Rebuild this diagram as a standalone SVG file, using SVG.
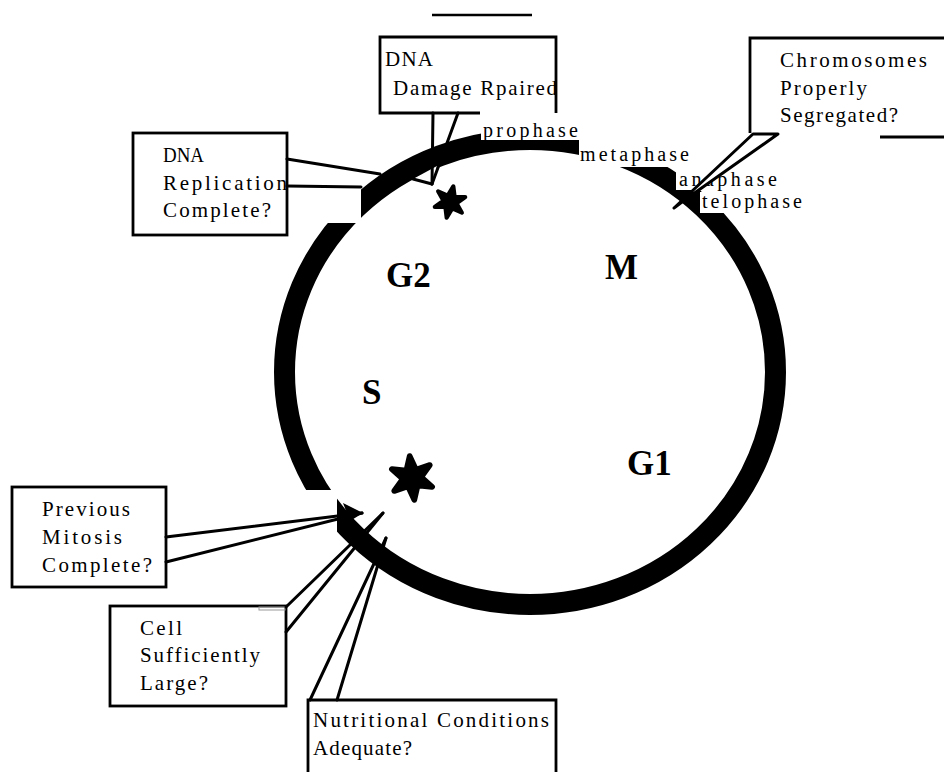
<svg xmlns="http://www.w3.org/2000/svg" width="944" height="772" viewBox="0 0 944 772">
<style>
.box{fill:none;stroke:#000;stroke-width:2.8}
.t{font-family:"Liberation Serif","Times New Roman",serif;font-size:21px;fill:#000}
.lb{font-family:"Liberation Serif","Times New Roman",serif;font-size:20px;fill:#000}
.big{font-family:"Liberation Serif","Times New Roman",serif;font-size:35px;font-weight:bold;fill:#000}
.con{fill:none;stroke:#000;stroke-width:3;stroke-linecap:round}
.wb{fill:#fff;stroke:none}
.star{fill:#000;stroke:#000;stroke-width:2.6;stroke-linejoin:round}
</style>
<defs>
<path id="star" d="M0,-10 L2.2,-3.6 L8.66,-5 L4.2,0 L8.66,5 L2.2,3.6 L0,10 L-2.2,3.6 L-8.66,5 L-4.2,0 L-8.66,-5 L-2.2,-3.6 Z"/>
</defs>
<rect width="944" height="772" fill="#fff"/>
<line x1="432" y1="15" x2="532" y2="15" stroke="#000" stroke-width="2.5"/>
<g id="cycle">
<ellipse cx="530" cy="372" rx="245.5" ry="232.5" fill="none" stroke="#000" stroke-width="21"/>
<rect class="wb" x="288" y="150" width="73" height="73"/>
<rect class="wb" x="288" y="490" width="49" height="46"/>
<rect class="wb" x="481" y="118" width="99" height="22"/>
<rect class="wb" x="579" y="126" width="99" height="41"/>
<rect class="wb" x="676" y="170" width="104" height="20"/>
<rect class="wb" x="700" y="192" width="106" height="21"/>
<polygon points="343,503 363,513 350,521" fill="#000"/>
<text class="lb" x="483" y="137" textLength="95" lengthAdjust="spacing">prophase</text>
<text class="lb" x="580" y="161" textLength="109" lengthAdjust="spacing">metaphase</text>
<text class="lb" x="679" y="186" textLength="98" lengthAdjust="spacing">anaphase</text>
<text class="lb" x="702" y="208" textLength="100" lengthAdjust="spacing">telophase</text>
<use href="#star" class="star" transform="translate(450,202) scale(1.6) rotate(12)"/>
<use href="#star" class="star" transform="translate(412,478) scale(2.2) rotate(-6)"/>
<text class="big" x="386" y="287">G2</text>
<text class="big" x="605" y="279">M</text>
<text class="big" x="362" y="404">S</text>
<text class="big" x="627" y="475">G1</text>
</g>
<g id="dna-replication">
<rect class="box" x="133" y="133" width="154" height="102"/>
<text class="t" x="163" y="162" textLength="41" lengthAdjust="spacingAndGlyphs">DNA</text>
<text class="t" x="163" y="190" textLength="124" lengthAdjust="spacing">Replication</text>
<text class="t" x="163" y="217" textLength="108" lengthAdjust="spacing">Complete?</text>
</g>
<g id="dna-damage">
<path class="box" d="M480,113 H380 V37 H556 V113"/>
<text class="t" x="385" y="66" textLength="48" lengthAdjust="spacing">DNA</text>
<text class="t" x="393" y="95" textLength="164" lengthAdjust="spacing">Damage Rpaired</text>
</g>
<g id="chromosomes">
<path class="box" d="M750,133 V38 H944"/>
<line x1="880" y1="137" x2="944" y2="137" stroke="#000" stroke-width="2.8"/>
<text class="t" x="780" y="67" textLength="147" lengthAdjust="spacing">Chromosomes</text>
<text class="t" x="780" y="95" textLength="87" lengthAdjust="spacing">Properly</text>
<text class="t" x="780" y="122" textLength="118" lengthAdjust="spacing">Segregated?</text>
</g>
<g id="previous-mitosis">
<rect class="box" x="12" y="487" width="154" height="100"/>
<text class="t" x="42" y="516" textLength="88" lengthAdjust="spacing">Previous</text>
<text class="t" x="42" y="544" textLength="80" lengthAdjust="spacing">Mitosis</text>
<text class="t" x="42" y="572" textLength="110" lengthAdjust="spacing">Complete?</text>
</g>
<g id="cell-size">
<rect class="box" x="110" y="606" width="176" height="100"/>
<rect x="259" y="607" width="26" height="3" fill="none" stroke="#999" stroke-width="1"/>
<text class="t" x="140" y="635" textLength="42" lengthAdjust="spacing">Cell</text>
<text class="t" x="140" y="662" textLength="120" lengthAdjust="spacing">Sufficiently</text>
<text class="t" x="140" y="690" textLength="68" lengthAdjust="spacing">Large?</text>
</g>
<g id="nutrition">
<path class="box" d="M308,772 V700 H556 V772"/>
<text class="t" x="313" y="727" textLength="236" lengthAdjust="spacing">Nutritional Conditions</text>
<text class="t" x="313" y="755" textLength="99" lengthAdjust="spacing">Adequate?</text>
</g>
<g id="connectors">
<line class="con" x1="287" y1="159" x2="380" y2="174"/>
<line class="con" x1="287" y1="186" x2="361" y2="187"/>
<polygon class="wb" points="413,179 432,184 437,166"/>
<line class="con" x1="433" y1="113" x2="432" y2="184"/>
<line class="con" x1="458" y1="113" x2="432" y2="184"/>
<line class="con" x1="413" y1="179" x2="432" y2="184"/>
<polygon points="753,134 778,134 686,199 674,208" fill="#fff" stroke="#000" stroke-width="3" stroke-linejoin="round"/>
<line class="con" x1="166" y1="537" x2="362" y2="513"/>
<line class="con" x1="166" y1="562" x2="362" y2="513"/>
<line class="con" x1="286" y1="607" x2="383" y2="513"/>
<line class="con" x1="286" y1="632" x2="383" y2="513"/>
<line class="con" x1="310" y1="700" x2="386" y2="538"/>
<line class="con" x1="337" y1="700" x2="386" y2="538"/>
</g>
</svg>
